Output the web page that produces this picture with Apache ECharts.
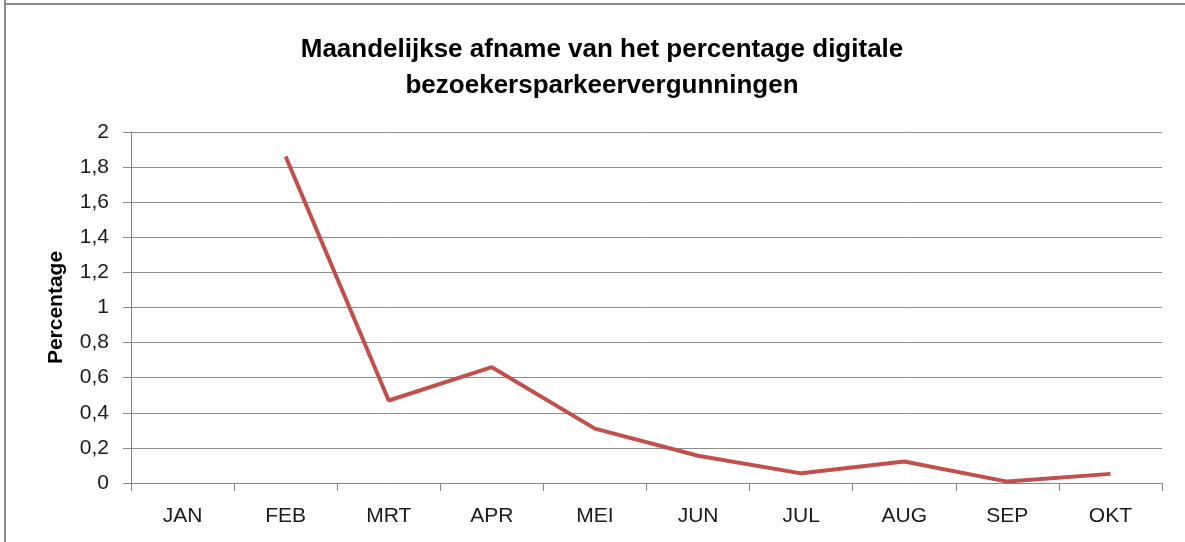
<!DOCTYPE html>
<html>
<head>
<meta charset="utf-8">
<script src="https://cdn.jsdelivr.net/npm/echarts@6/dist/echarts.min.js"></script>
<style>
  html, body { margin: 0; padding: 0; background: #fff; }
  #chart { width: 1185px; height: 542px; }
</style>
</head>
<body>
<div id="chart"></div>
<script>
const months = ['JAN', 'FEB', 'MRT', 'APR', 'MEI', 'JUN', 'JUL', 'AUG', 'SEP', 'OKT'];
const afname = [null, 1.86, 0.47, 0.66, 0.31, 0.155, 0.055, 0.123, 0.008, 0.052];

const fontFam = '"Liberation Sans", Arial, sans-serif';

const chart = echarts.init(document.getElementById('chart'));
chart.setOption({
    animation: false,
    title: {
        text: 'Maandelijkse afname van het percentage digitale\nbezoekersparkeervergunningen',
        left: 597,
        textAlign: 'center',
        top: 27,
        textStyle: {
            fontFamily: fontFam,
            fontWeight: 'bold',
            fontSize: 26,
            lineHeight: 36,
            color: '#000'
        }
    },
    graphic: [
        { type: 'line', shape: { x1: 5, y1: 0, x2: 5, y2: 542 }, style: { stroke: '#8a8a8a', lineWidth: 2 } },
        { type: 'line', shape: { x1: 5, y1: 4, x2: 1185, y2: 4 }, style: { stroke: '#8a8a8a', lineWidth: 2 } }
    ],
    grid: {
        left: 131,
        right: 23,
        top: 132,
        bottom: 59
    },
    xAxis: {
        type: 'category',
        data: months,
        boundaryGap: true,
        axisLine: { lineStyle: { color: '#868686', width: 1 } },
        axisTick: { show: true, length: 8, lineStyle: { color: '#868686' } },
        axisLabel: {
            margin: 23,
            fontFamily: fontFam,
            fontSize: 21,
            color: '#1a1a1a'
        }
    },
    yAxis: {
        type: 'value',
        min: 0,
        max: 2,
        interval: 0.2,
        name: 'Percentage',
        nameLocation: 'middle',
        nameGap: 64,
        nameTextStyle: {
            fontFamily: fontFam,
            fontWeight: 'bold',
            fontSize: 21,
            color: '#000'
        },
        axisLine: { show: true, lineStyle: { color: '#868686' } },
        axisTick: { show: true, length: 8, lineStyle: { color: '#868686' } },
        splitLine: { lineStyle: { color: '#8c8c8c', width: 1 } },
        axisLabel: {
            margin: 22,
            fontFamily: fontFam,
            fontSize: 21,
            color: '#1a1a1a',
            formatter: v => String(Math.round(v * 10) / 10).replace('.', ',')
        }
    },
    series: [
        {
            type: 'line',
            data: afname,
            symbol: 'none',
            connectNulls: false,
            lineStyle: { color: '#c0504d', width: 4 },
            itemStyle: { color: '#c0504d' }
        }
    ]
});
</script>
</body>
</html>
